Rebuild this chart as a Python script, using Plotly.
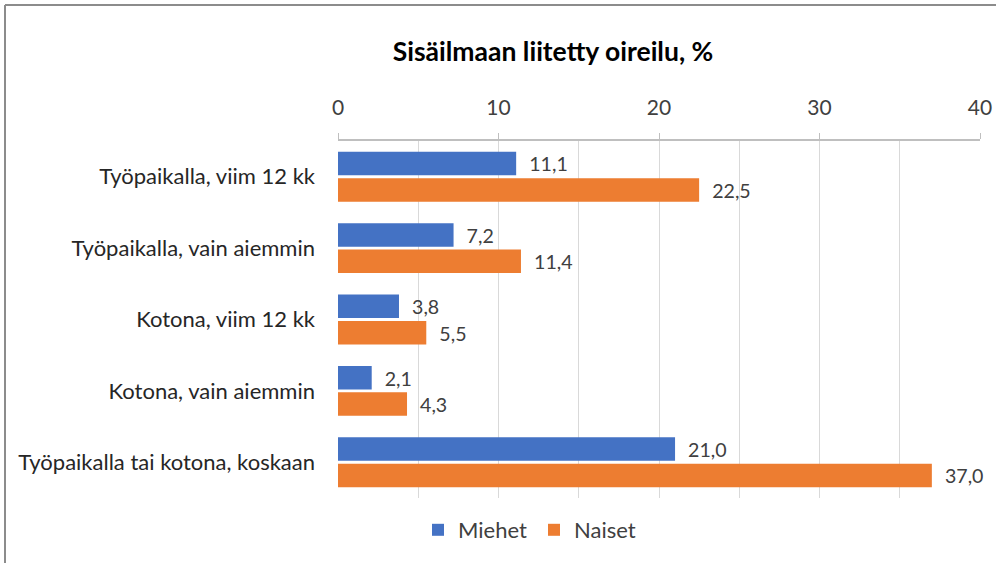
import plotly.graph_objects as go

categories = ["Työpaikalla, viim 12 kk", "Työpaikalla, vain aiemmin", "Kotona, viim 12 kk",
              "Kotona, vain aiemmin", "Työpaikalla tai kotona, koskaan"]
miehet = [11.1, 7.2, 3.8, 2.1, 21.0]
naiset = [22.5, 11.4, 5.5, 4.3, 37.0]
series_names = ["Miehet", "Naiset"]
colors = ["#4472C4", "#ED7D31"]

W, H = 996, 563
L, R, T, B = 338, 16, 141, 65
pw, ph = W - L - R, H - T - B

def px_x(x):
    return (x - L) / pw

def px_y(y):
    return (H - B - y) / ph

FONT = "Lato"
fig = go.Figure()
for name, vals, col in zip(series_names, [miehet, naiset], colors):
    fig.add_trace(go.Bar(
        y=categories, x=vals, name=name, orientation="h",
        marker=dict(color=col, line=dict(width=0)),
        text=["\u00a0\u00a0" + f"{v:.1f}".replace(".", ",") for v in vals],
        textposition="outside", cliponaxis=False,
        textfont=dict(family=FONT, size=20, color="#404040"),
    ))

fig.update_layout(
    width=W, height=H,
    margin=dict(l=L, r=R, t=T, b=B, autoexpand=False),
    paper_bgcolor="white", plot_bgcolor="white",
    barmode="group", bargap=0.26, bargroupgap=0.11,
    title=dict(text="<b>Sisäilmaan liitetty oireilu, %</b>",
               font=dict(family=FONT, size=26.5, color="#000000"),
               x=px_x(553), xref="paper", xanchor="center",
               y=1 - 52 / H, yref="container", yanchor="middle"),
    legend=dict(orientation="h", x=px_x(418), xanchor="left",
                y=px_y(530), yanchor="middle",
                font=dict(family=FONT, size=22, color="#404040"),
                traceorder="normal", itemwidth=30, entrywidth=71),
    showlegend=True,
    xaxis=dict(side="top", range=[0, 40], dtick=10, tick0=0, automargin=False,
               showgrid=True, gridcolor="#D9D9D9", gridwidth=1,
               minor=dict(dtick=5, showgrid=True, gridcolor="#D9D9D9", gridwidth=1),
               showline=True, linecolor="#BFBFBF", linewidth=1.5,
               ticks="outside", ticklen=6, tickcolor="#BFBFBF",
               ticklabelstandoff=10, zeroline=False,
               tickfont=dict(family=FONT, size=21, color="#404040")),
    yaxis=dict(autorange="reversed", showgrid=False, zeroline=False, automargin=False,
               showline=False, ticks="", ticklabelstandoff=22,
               tickfont=dict(family=FONT, size=22, color="#262626")),
    shapes=[
        dict(type="line", xref="paper", yref="paper",
             x0=px_x(5), x1=px_x(5), y0=px_y(5), y1=px_y(600),
             line=dict(color="#8C8C8C", width=2)),
        dict(type="line", xref="paper", yref="paper",
             x0=px_x(5), x1=px_x(1100), y0=px_y(5), y1=px_y(5),
             line=dict(color="#8C8C8C", width=2)),
    ],
)

fig.write_html("out.html", config={"displayModeBar": False},
               post_script="document.body.style.margin='0';")
